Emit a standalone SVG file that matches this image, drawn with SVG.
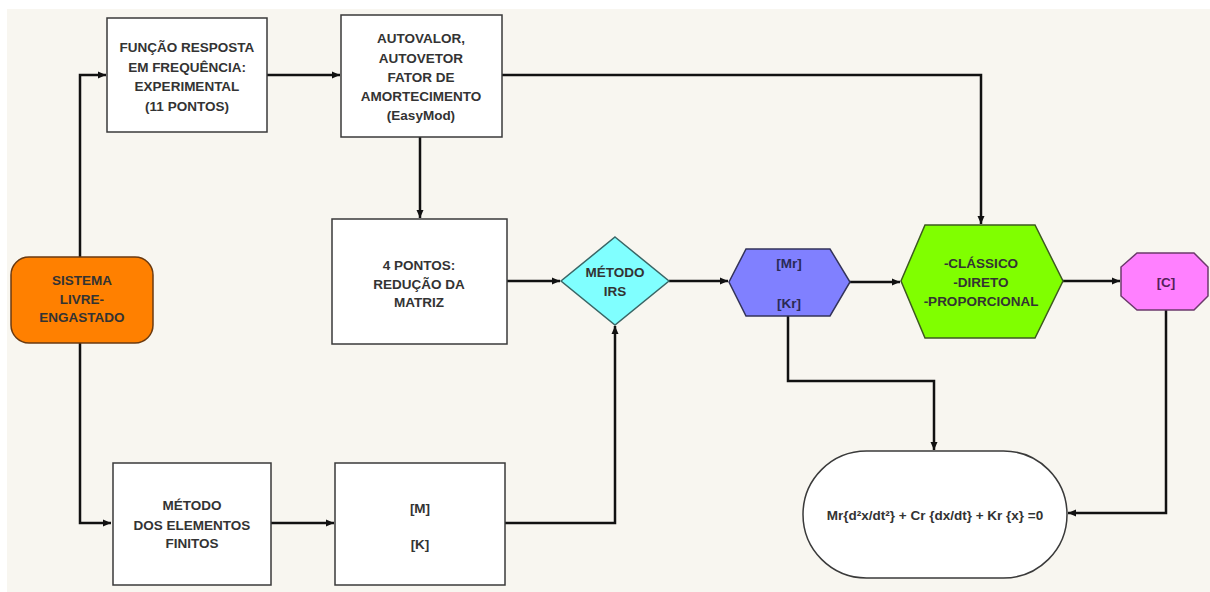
<svg xmlns="http://www.w3.org/2000/svg" width="1210" height="592" viewBox="0 0 1210 592">
<style>
.bg{fill:#f8f6f0}
.box{fill:#ffffff;stroke:#3a3a3a;stroke-width:1.5}
.t{font-family:"Liberation Sans",Arial,sans-serif;font-weight:bold;font-size:13.5px;fill:#333333;text-anchor:middle}
.c{fill:none;stroke:#111111;stroke-width:2.5}
</style>
<defs>
<marker id="ah" markerUnits="userSpaceOnUse" markerWidth="10" markerHeight="8" refX="8" refY="4" orient="auto">
<path d="M0,0.5 L8,4 L0,7.5 Z" fill="#111111"/>
</marker>
</defs>
<rect x="0" y="0" width="1210" height="592" fill="#ffffff"/>
<rect class="bg" x="7" y="9" width="1203" height="583"/>

<g id="connectors">
<path class="c" d="M80,257 V75 H106" marker-end="url(#ah)"/>
<path class="c" d="M80,343 V523 H111" marker-end="url(#ah)"/>
<path class="c" d="M267,75 H340" marker-end="url(#ah)"/>
<path class="c" d="M502,75 H981 V224" marker-end="url(#ah)"/>
<path class="c" d="M420,137 V218" marker-end="url(#ah)"/>
<path class="c" d="M507,281 H560" marker-end="url(#ah)"/>
<path class="c" d="M271,523 H334" marker-end="url(#ah)"/>
<path class="c" d="M505,523 H615 V326" marker-end="url(#ah)"/>
<path class="c" d="M669,281 H728" marker-end="url(#ah)"/>
<path class="c" d="M850,282 H900" marker-end="url(#ah)"/>
<path class="c" d="M1063,281 H1120" marker-end="url(#ah)"/>
<path class="c" d="M788,316 V381 H934 V450" marker-end="url(#ah)"/>
<path class="c" d="M1166,310 V513 H1068" marker-end="url(#ah)"/>
</g>

<g id="funcao">
<rect class="box" x="107" y="18" width="160" height="114"/>
<text class="t" x="187" y="52">FUNÇÃO RESPOSTA</text>
<text class="t" x="187" y="71.5">EM FREQUÊNCIA:</text>
<text class="t" x="187" y="91">EXPERIMENTAL</text>
<text class="t" x="187" y="110.5">(11 PONTOS)</text>
</g>

<g id="autovalor">
<rect class="box" x="341" y="15" width="161" height="122"/>
<text class="t" x="421" y="43">AUTOVALOR,</text>
<text class="t" x="421" y="62.5">AUTOVETOR</text>
<text class="t" x="421" y="82">FATOR DE</text>
<text class="t" x="421" y="101">AMORTECIMENTO</text>
<text class="t" x="421" y="120">(EasyMod)</text>
</g>

<g id="sistema">
<rect x="11" y="257" width="142" height="86" rx="18" ry="18" fill="#ff8000" stroke="#6b3a10" stroke-width="1.5"/>
<text class="t" x="82" y="285">SISTEMA</text>
<text class="t" x="82" y="304">LIVRE-</text>
<text class="t" x="82" y="322">ENGASTADO</text>
</g>

<g id="quatro-pontos">
<rect class="box" x="332" y="219" width="175" height="125"/>
<text class="t" x="419" y="270">4 PONTOS:</text>
<text class="t" x="419" y="289">REDUÇÃO DA</text>
<text class="t" x="419" y="307">MATRIZ</text>
</g>

<g id="metodo-irs">
<polygon points="615,237 669,281 615,325 561,281" fill="#80ffff" stroke="#3a6666" stroke-width="1.5"/>
<text class="t" x="615" y="277">MÉTODO</text>
<text class="t" x="615" y="296">IRS</text>
</g>

<g id="mr-kr">
<polygon points="746,249 830,249 850,282 830,316 746,316 729,282" fill="#8080ff" stroke="#33335a" stroke-width="1.5"/>
<text class="t" x="789" y="268" style="fill:#2a2a55">[Mr]</text>
<text class="t" x="789" y="308" style="fill:#2a2a55">[Kr]</text>
</g>

<g id="metodos-amortecimento">
<polygon points="925,225 1035,225 1063,281 1035,338 925,338 901,281" fill="#80ff00" stroke="#3d5a20" stroke-width="1.5"/>
<text class="t" x="981" y="268">-CLÁSSICO</text>
<text class="t" x="981" y="287">-DIRETO</text>
<text class="t" x="981" y="306">-PROPORCIONAL</text>
</g>

<g id="c-matrix">
<polygon points="1137,253 1194,253 1208,267 1208,296 1194,310 1137,310 1121,296 1121,267" fill="#ff80ff" stroke="#6b3a6b" stroke-width="1.5"/>
<text class="t" x="1166" y="287" style="fill:#55205a">[C]</text>
</g>

<g id="equacao">
<rect class="box" x="803" y="451" width="264" height="127" rx="63.5" ry="63.5"/>
<text class="t" x="935" y="520">Mr{d²x/dt²} + Cr {dx/dt} + Kr {x} =0</text>
</g>

<g id="metodo-elementos">
<rect class="box" x="113" y="463" width="158" height="122"/>
<text class="t" x="192" y="510">MÉTODO</text>
<text class="t" x="192" y="530">DOS ELEMENTOS</text>
<text class="t" x="192" y="548">FINITOS</text>
</g>

<g id="m-k">
<rect class="box" x="335" y="463" width="170" height="122"/>
<text class="t" x="420" y="513">[M]</text>
<text class="t" x="420" y="549">[K]</text>
</g>
</svg>
